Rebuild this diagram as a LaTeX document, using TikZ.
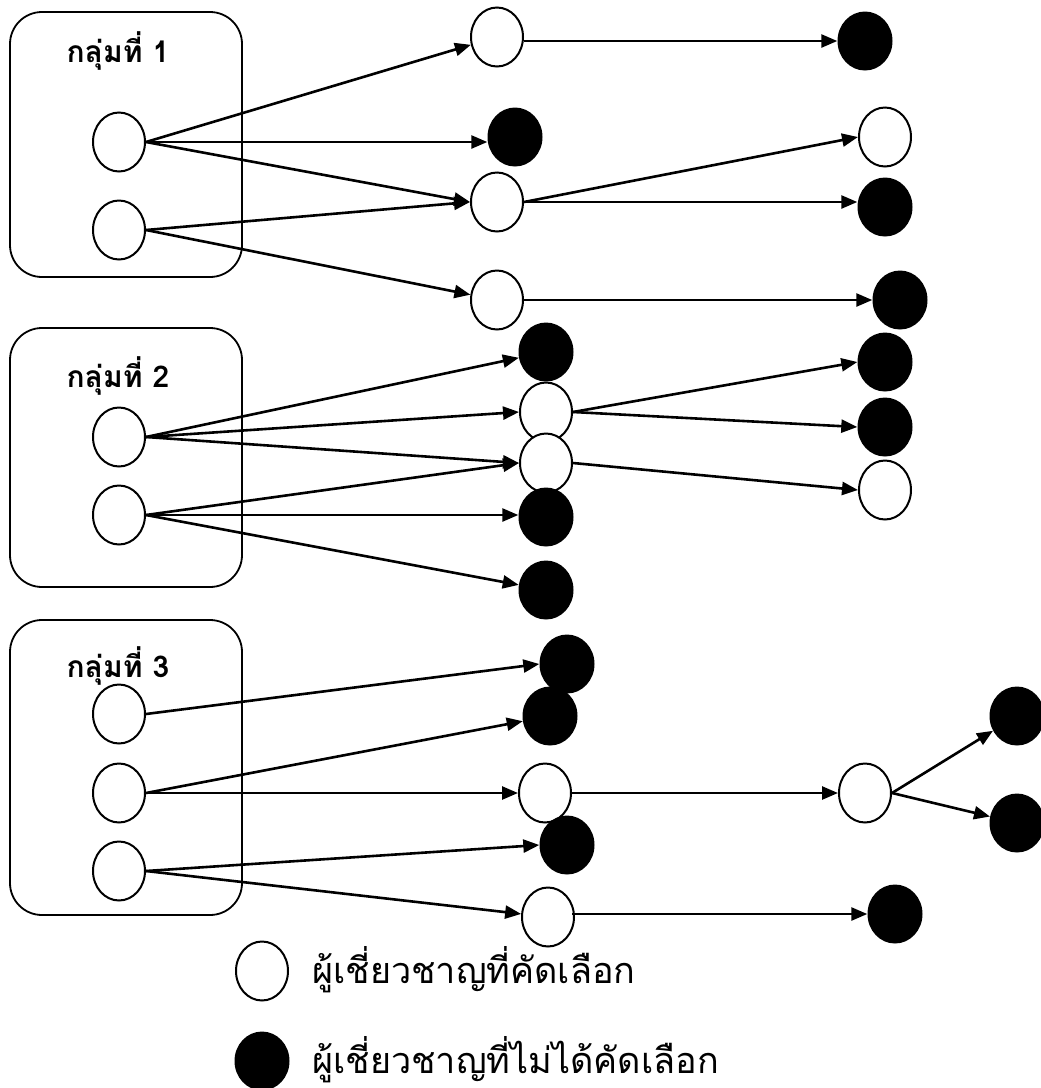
\documentclass[tikz,border=0pt]{standalone}
\usepackage{fontspec}
\newfontfamily\thaifont[Script=Thai]{Loma}
\usetikzlibrary{arrows.meta,shapes.geometric}
\begin{document}
\begin{tikzpicture}[x=1pt,y=-1pt,
 sel/.style={ellipse,draw,line width=2pt,fill=white,minimum width=52pt,minimum height=59pt,inner sep=0pt},
 rej/.style={ellipse,fill=black,minimum width=55pt,minimum height=59pt,inner sep=0pt},
 grp/.style={draw,line width=1.8pt,rounded corners=32pt,inner sep=0pt},
 arr/.style={line width=2.6pt,-{Triangle[length=16pt,width=13pt]}},
 lbl/.style={font=\thaifont\bfseries\fontsize{30}{32}\selectfont},
 leg/.style={font=\thaifont\fontsize{36}{40}\selectfont,anchor=west,inner sep=0pt}]
\useasboundingbox (0,0) rectangle (1041,1088);
% group boxes
\node[grp,minimum width=232pt,minimum height=265pt] (g1) at (126,144.5) {};
\node[grp,minimum width=232pt,minimum height=259pt] (g2) at (126,457.5) {};
\node[grp,minimum width=232pt,minimum height=295pt] (g3) at (126,767.5) {};
\node[lbl] (l1) at (118,51) {กลุ่มที่ 1};
\node[lbl] (l2) at (118,376) {กลุ่มที่ 2};
\node[lbl] (l3) at (118,666) {กลุ่มที่ 3};
% group 1
\node[sel] (A1) at (119,142) {};
\node[sel] (A2) at (119,230) {};
\node[sel] (B1) at (497,37) {};
\node[rej] (B2) at (515,137) {};
\node[sel] (B3) at (497,202) {};
\node[sel] (B4) at (497,300) {};
\node[rej] (C1) at (865,41) {};
\node[sel] (C2) at (885,137) {};
\node[rej] (C3) at (885,207) {};
\node[rej] (C4) at (900,300) {};
\draw[arr] (A1.east) -- (B1);
\draw[arr] (A1.east) -- (B2.west |- A1.east);
\draw[arr] (A1.east) -- (B3.west);
\draw[arr] (A2.east) -- (B3.west);
\draw[arr] (A2.east) -- (B4);
\draw[arr] (B1.east |- C1.west) -- (C1.west);
\draw[arr] (B3.east) -- (C2.west);
\draw[arr] (B3.east) -- (C3.west |- B3.east);
\draw[arr] (B4.east) -- (C4.west);
% group 2
\node[sel] (D1) at (119,437) {};
\node[sel] (D2) at (119,515) {};
\node[rej] (E1) at (546,352) {};
\node[sel] (E2) at (546,412) {};
\node[sel] (E3) at (546,463) {};
\node[rej] (E4) at (546,517) {};
\node[rej] (E5) at (546,590) {};
\node[rej] (F1) at (885,362) {};
\node[rej] (F2) at (885,427) {};
\node[sel] (F3) at (885,490) {};
\draw[arr] (D1.east) -- (E1);
\draw[arr] (D1.east) -- (E2.west);
\draw[arr] (D1.east) -- (E3.west);
\draw[arr] (D2.east) -- (E3.west);
\draw[arr] (D2.east) -- (E4.west |- D2.east);
\draw[arr] (D2.east) -- (E5);
\draw[arr] (E2.east) -- (F1.west);
\draw[arr] (E2.east) -- (F2.west);
\draw[arr] (E3.east) -- (F3.west);
% group 3
\node[sel] (G1) at (119,714) {};
\node[sel] (G2) at (119,793) {};
\node[sel] (G3) at (119,871) {};
\node[rej] (H1) at (567,664) {};
\node[rej] (H2) at (550,716) {};
\node[sel] (H3) at (545,793) {};
\node[rej] (H4) at (567,845) {};
\node[sel] (H5) at (548,917) {};
\node[sel] (I1) at (865,793) {};
\node[rej] (J1) at (1017,716) {};
\node[rej] (J2) at (1017,823) {};
\node[rej] (I2) at (895,914) {};
\draw[arr] (G1.east) -- (H1.west);
\draw[arr] (G2.east) -- (H2);
\draw[arr] (G2.east) -- (H3.west |- G2.east);
\draw[arr] (G3.east) -- (H4.west);
\draw[arr] (G3.east) -- (H5);
\draw[arr] (H3.east) -- (I1.west |- H3.east);
\draw[arr] (I1.east) -- (J1);
\draw[arr] (I1.east) -- (J2);
\draw[arr] ([xshift=-3pt]H5.east |- I2.west) -- (I2.west);
% legend
\node[sel] (k1) at (262,971) {};
\node[rej] (k2) at (262,1061) {};
\node[leg] (t1) at (312,970) {ผู้เชี่ยวชาญที่คัดเลือก};
\node[leg] (t2) at (312,1060) {ผู้เชี่ยวชาญที่ไม่ได้คัดเลือก};
\end{tikzpicture}
\end{document}
